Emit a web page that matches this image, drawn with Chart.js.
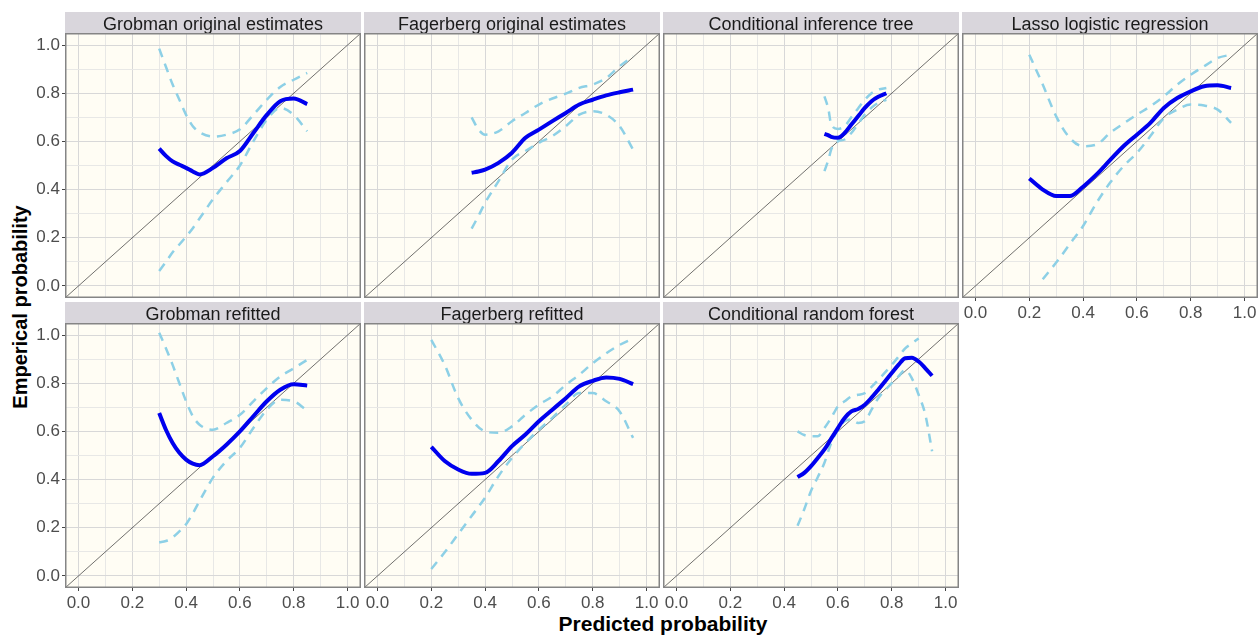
<!DOCTYPE html>
<html>
<head>
<meta charset="utf-8">
<script src="https://cdn.jsdelivr.net/npm/chart.js@4.4.1/dist/chart.umd.min.js"></script>
<style>
  body { margin: 0; background: #fff; width: 1258px; height: 636px; position: relative; overflow: hidden; font-family: "Liberation Sans", Arial, sans-serif; }
  canvas { position: absolute; }
  .axisTitle { position: absolute; font-weight: bold; font-size: 20px; line-height: 20px; color: #000; white-space: nowrap; }
  #xTitle { left: 663px; top: 614px; font-size: 21px; transform: translateX(-50%); }
  #yTitle { left: 20px; top: 307px; transform: translate(-50%, -50%) rotate(-90deg); }
</style>
</head>
<body>
<div class="axisTitle" id="xTitle">Predicted probability</div>
<div class="axisTitle" id="yTitle">Emperical probability</div>
<script>
// axis ticks shared by every panel
const tickValues = [0, 0.1, 0.2, 0.3, 0.4, 0.5, 0.6, 0.7, 0.8, 0.9, 1.0];
const tickLabels = ['0.0', '', '0.2', '', '0.4', '', '0.6', '', '0.8', '', '1.0'];
const refLine = [-0.05, 1.05];

// Grobman original estimates
const grobOrigX = [0.30, 0.325, 0.35, 0.375, 0.40, 0.425, 0.45, 0.50, 0.55, 0.60, 0.65, 0.70, 0.75, 0.80, 0.85];
const grobOrigFit = [0.57, 0.54, 0.517, 0.503, 0.49, 0.475, 0.463, 0.49, 0.53, 0.56, 0.635, 0.71, 0.767, 0.778, 0.755];
const grobOrigUpper = [0.985, 0.91, 0.836, 0.773, 0.71, 0.663, 0.638, 0.62, 0.628, 0.65, 0.71, 0.773, 0.826, 0.856, 0.884];
const grobOrigLower = [0.062, 0.10, 0.14, 0.172, 0.205, 0.24, 0.28, 0.36, 0.43, 0.50, 0.60, 0.69, 0.739, 0.71, 0.642];

// Fagerberg original estimates
const fagOrigX = [0.35, 0.375, 0.40, 0.45, 0.50, 0.55, 0.60, 0.65, 0.70, 0.75, 0.80, 0.85, 0.90, 0.95];
const fagOrigFit = [0.47, 0.475, 0.483, 0.511, 0.553, 0.615, 0.649, 0.684, 0.718, 0.753, 0.773, 0.791, 0.804, 0.815];
const fagOrigUpper = [0.70, 0.65, 0.628, 0.642, 0.684, 0.718, 0.753, 0.778, 0.798, 0.822, 0.836, 0.863, 0.912, 0.953];
const fagOrigLower = [0.238, 0.29, 0.345, 0.435, 0.525, 0.56, 0.594, 0.622, 0.663, 0.711, 0.725, 0.711, 0.663, 0.566];

// Conditional inference tree
const ctreeX = [0.55, 0.565, 0.575, 0.60, 0.625, 0.65, 0.675, 0.70, 0.725, 0.75, 0.78];
const ctreeFit = [0.631, 0.625, 0.619, 0.615, 0.635, 0.67, 0.704, 0.739, 0.767, 0.785, 0.80];
const ctreeUpper = [0.787, 0.732, 0.67, 0.652, 0.663, 0.70, 0.737, 0.773, 0.80, 0.815, 0.822];
const ctreeLower = [0.477, 0.525, 0.566, 0.60, 0.608, 0.635, 0.673, 0.711, 0.74, 0.76, 0.773];

// Lasso logistic regression
const lassoX = [0.20, 0.25, 0.30, 0.35, 0.40, 0.45, 0.50, 0.55, 0.60, 0.65, 0.70, 0.75, 0.80, 0.85, 0.90, 0.95];
const lassoFit = [0.446, 0.40, 0.373, 0.373, 0.412, 0.463, 0.522, 0.58, 0.628, 0.677, 0.739, 0.78, 0.808, 0.829, 0.833, 0.822];
const lassoUpper = [0.96, 0.836, 0.704, 0.615, 0.58, 0.587, 0.635, 0.674, 0.711, 0.746, 0.787, 0.836, 0.877, 0.912, 0.946, 0.96];
const lassoLower = [null, 0.028, 0.097, 0.173, 0.249, 0.345, 0.428, 0.497, 0.552, 0.622, 0.697, 0.732, 0.753, 0.749, 0.732, 0.677];

// Grobman refitted
const grobRefX = [0.30, 0.325, 0.35, 0.375, 0.40, 0.425, 0.45, 0.50, 0.55, 0.60, 0.65, 0.70, 0.75, 0.80, 0.85];
const grobRefFit = [0.676, 0.607, 0.552, 0.511, 0.483, 0.466, 0.46, 0.497, 0.545, 0.60, 0.663, 0.725, 0.773, 0.796, 0.79];
const grobRefUpper = [1.01, 0.945, 0.876, 0.80, 0.725, 0.663, 0.628, 0.607, 0.635, 0.669, 0.725, 0.78, 0.828, 0.862, 0.897];
const grobRefLower = [0.139, 0.145, 0.16, 0.185, 0.215, 0.26, 0.311, 0.408, 0.477, 0.532, 0.614, 0.69, 0.731, 0.725, 0.686];

// Fagerberg refitted
const fagRefX = [0.20, 0.25, 0.30, 0.35, 0.40, 0.45, 0.50, 0.55, 0.60, 0.65, 0.70, 0.75, 0.80, 0.85, 0.90, 0.95];
const fagRefFit = [0.536, 0.477, 0.442, 0.424, 0.428, 0.477, 0.539, 0.587, 0.642, 0.69, 0.738, 0.787, 0.81, 0.824, 0.818, 0.796];
const fagRefUpper = [0.98, 0.876, 0.738, 0.649, 0.60, 0.594, 0.621, 0.669, 0.711, 0.745, 0.793, 0.835, 0.883, 0.924, 0.959, 0.986];
const fagRefLower = [0.029, 0.098, 0.174, 0.249, 0.325, 0.415, 0.49, 0.552, 0.607, 0.656, 0.711, 0.759, 0.759, 0.725, 0.683, 0.573];

// Conditional random forest
const cforestX = [0.45, 0.475, 0.50, 0.525, 0.55, 0.575, 0.60, 0.625, 0.65, 0.675, 0.70, 0.725, 0.75, 0.80, 0.825, 0.85, 0.875, 0.90, 0.925, 0.95];
const cforestFit = [0.41, 0.428, 0.456, 0.49, 0.525, 0.57, 0.614, 0.656, 0.683, 0.693, 0.711, 0.74, 0.773, 0.842, 0.876, 0.904, 0.906, 0.89, 0.862, 0.831];
const cforestUpper = [0.60, 0.585, 0.58, 0.58, 0.614, 0.656, 0.704, 0.725, 0.745, 0.752, 0.759, 0.785, 0.814, 0.876, 0.91, 0.945, 0.965, 0.986, null, null];
const cforestLower = [0.208, 0.277, 0.353, 0.41, 0.47, 0.552, 0.607, 0.642, 0.649, 0.635, 0.642, 0.69, 0.738, 0.80, 0.828, 0.855, 0.82, 0.752, 0.669, 0.518];

const panels = [
  { title: 'Grobman original estimates', x: grobOrigX, fit: grobOrigFit, upper: grobOrigUpper, lower: grobOrigLower, row: 0, col: 0 },
  { title: 'Fagerberg original estimates', x: fagOrigX, fit: fagOrigFit, upper: fagOrigUpper, lower: fagOrigLower, row: 0, col: 1 },
  { title: 'Conditional inference tree', x: ctreeX, fit: ctreeFit, upper: ctreeUpper, lower: ctreeLower, row: 0, col: 2 },
  { title: 'Lasso logistic regression', x: lassoX, fit: lassoFit, upper: lassoUpper, lower: lassoLower, row: 0, col: 3 },
  { title: 'Grobman refitted', x: grobRefX, fit: grobRefFit, upper: grobRefUpper, lower: grobRefLower, row: 1, col: 0 },
  { title: 'Fagerberg refitted', x: fagRefX, fit: fagRefFit, upper: fagRefUpper, lower: fagRefLower, row: 1, col: 1 },
  { title: 'Conditional random forest', x: cforestX, fit: cforestFit, upper: cforestUpper, lower: cforestLower, row: 1, col: 2 },
];

const colLeft = [65, 364, 663, 962];
const rowTop = [12, 302];
const stripH = 21, plotW = 296, plotH = 265, yAxisW = 50, xAxisH = 28;
const fontFamily = '"Liberation Sans", Arial, sans-serif';

const panelFrame = {
  id: 'panelFrame',
  beforeDraw(chart, args, opts) {
    const { ctx, chartArea: a } = chart;
    ctx.save();
    ctx.fillStyle = '#fffdf4';
    ctx.fillRect(a.left, a.top, a.right - a.left, a.bottom - a.top);
    ctx.fillStyle = '#d9d6dc';
    ctx.fillRect(a.left, a.top - stripH, a.right - a.left, stripH);
    ctx.fillStyle = '#1a1a1a';
    ctx.font = '18px ' + fontFamily;
    ctx.textAlign = 'center';
    ctx.textBaseline = 'alphabetic';
    ctx.fillText(opts.title, (a.left + a.right) / 2, a.top - 3);
    ctx.restore();
  },
  afterDraw(chart) {
    const { ctx, chartArea: a } = chart;
    ctx.save();
    ctx.strokeStyle = '#858585';
    ctx.lineWidth = 1.5;
    ctx.strokeRect(a.left + 0.75, a.top + 0.75, a.right - a.left - 1.5, a.bottom - a.top - 1.5);
    ctx.restore();
  }
};

function axisOptions(showLabels, horizontal) {
  return {
    type: 'linear',
    min: -0.05,
    max: 1.05,
    afterBuildTicks: s => { s.ticks = tickValues.map(v => ({ value: v })); },
    afterFit: s => {
      if (horizontal) s.height = showLabels ? xAxisH : 0;
      else s.width = showLabels ? yAxisW : 0;
      s.paddingLeft = 0; s.paddingRight = 0; s.paddingTop = 0; s.paddingBottom = 0;
    },
    grid: {
      color: c => (c.index % 2 === 0 ? '#d8d8d8' : '#e8e8e6'),
      lineWidth: 1,
      drawTicks: showLabels,
      tickLength: 3,
      tickColor: c => (c.index % 2 === 0 ? '#444' : 'rgba(0,0,0,0)'),
    },
    border: { display: false },
    ticks: {
      display: showLabels,
      padding: 2,
      color: '#4d4d4d',
      font: { size: 17, family: fontFamily },
      autoSkip: false,
      maxRotation: 0,
      callback: (v, i) => tickLabels[i],
    },
  };
}

function points(xs, ys) {
  return xs.map((x, i) => ({ x: x, y: ys[i] }));
}

panels.forEach(p => {
  const showY = p.col === 0;
  const showX = p.row === 1 || p.col === 3;
  const canvas = document.createElement('canvas');
  const w = plotW + (showY ? yAxisW : 0);
  const h = stripH + plotH + (showX ? xAxisH : 0);
  canvas.width = w;
  canvas.height = h;
  canvas.style.left = (colLeft[p.col] - (showY ? yAxisW : 0)) + 'px';
  canvas.style.top = rowTop[p.row] + 'px';
  canvas.style.width = w + 'px';
  canvas.style.height = h + 'px';
  document.body.appendChild(canvas);

  new Chart(canvas.getContext('2d'), {
    type: 'scatter',
    data: {
      datasets: [
        {
          data: points(p.x, p.fit),
          showLine: true,
          borderColor: '#0000ee',
          borderWidth: 4,
          pointRadius: 0,
          cubicInterpolationMode: 'monotone',
        },
        {
          data: points(p.x, p.upper),
          showLine: true,
          borderColor: '#8dd0e6',
          borderWidth: 2.5,
          borderDash: [9, 7],
          pointRadius: 0,
          cubicInterpolationMode: 'monotone',
        },
        {
          data: points(p.x, p.lower),
          showLine: true,
          borderColor: '#8dd0e6',
          borderWidth: 2.5,
          borderDash: [9, 7],
          pointRadius: 0,
          cubicInterpolationMode: 'monotone',
        },
        {
          data: points(refLine, refLine),
          showLine: true,
          borderColor: '#333',
          borderWidth: 0.7,
          pointRadius: 0,
        },
      ],
    },
    options: {
      responsive: false,
      animation: false,
      devicePixelRatio: 1,
      events: [],
      layout: { padding: { top: stripH, left: 0, right: 0, bottom: 0 } },
      scales: {
        x: axisOptions(showX, true),
        y: axisOptions(showY, false),
      },
      plugins: {
        legend: { display: false },
        tooltip: { enabled: false },
        panelFrame: { title: p.title },
      },
    },
    plugins: [panelFrame],
  });
});
</script>
</body>
</html>
